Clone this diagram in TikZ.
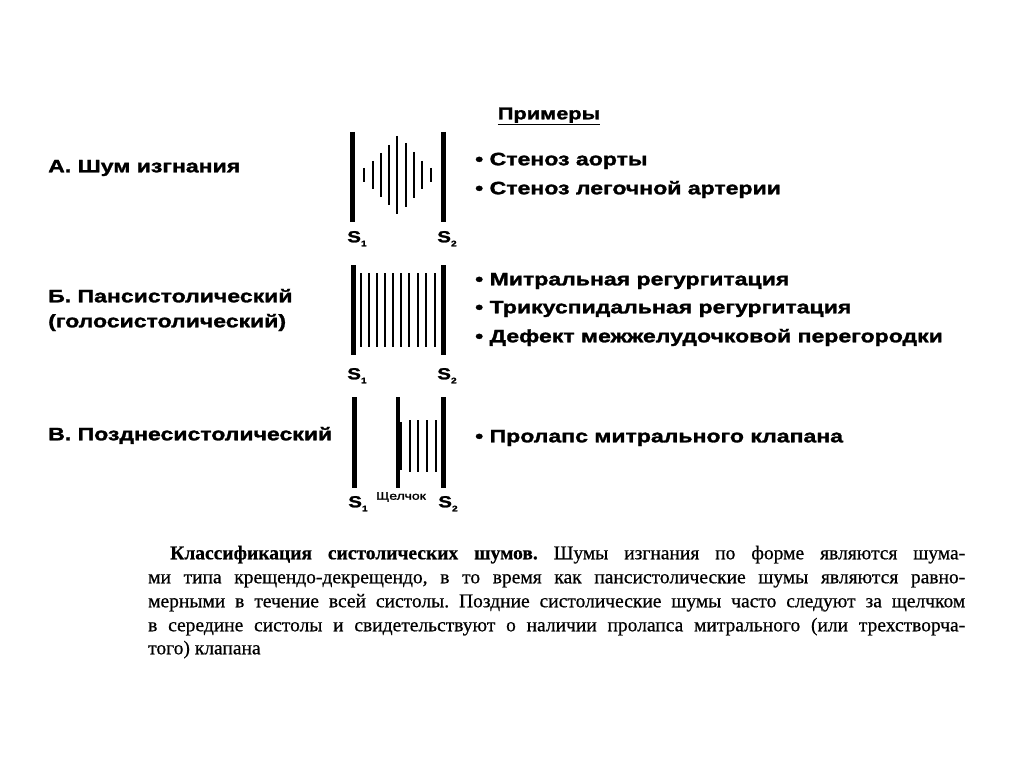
\documentclass[tikz,border=0pt]{standalone}
\usepackage{fontspec}
\setmainfont{Liberation Serif}[FakeBold=0.6]
\newfontfamily\lab{Liberation Sans}[FakeStretch=1.28,FakeBold=1.6]
\frenchspacing
\begin{document}
\begin{tikzpicture}[x=1pt,y=-1pt,
  lab/.style={anchor=mid west, inner sep=0pt, font=\lab\bfseries\fontsize{18}{20}\selectfont},
  slab/.style={anchor=mid, inner sep=0pt, font=\lab\bfseries\fontsize{16}{18}\selectfont},
  captxt/.style={anchor=mid west, inner sep=0pt, font=\fontsize{19.5}{22}\selectfont},
  sline/.style={line width=5pt},
  mline/.style={line width=2.8pt}]
\useasboundingbox (0,0) rectangle (1024,767);
\fill[white] (0,0) rectangle (1024,767);

% headings and labels
\node[lab, anchor=mid, font=\lab\bfseries\fontsize{17}{18}\selectfont] (ex) at (549,117) {\underline{Примеры}};
\node[lab] (la) at (48,170) {А. Шум изгнания};
\node[lab] (lb1) at (48,300) {Б. Пансистолический};
\node[lab] (lb2) at (48,325) {(голосистолический)};
\node[lab] (lc) at (48,438) {В. Позднесистолический};

% examples
\node[lab] (ea1) at (475,163) {• Стеноз аорты};
\node[lab] (ea2) at (475,192) {• Стеноз легочной артерии};
\node[lab] (eb1) at (475,283) {• Митральная регургитация};
\node[lab] (eb2) at (475,311) {• Трикуспидальная регургитация};
\node[lab] (eb3) at (475,340) {• Дефект межжелудочковой перегородки};
\node[lab] (ec1) at (475,440) {• Пролапс митрального клапана};

% Row A
\draw[sline] (352,132) -- (352,222);
\draw[sline] (443,132) -- (443,222);
\foreach \x/\h in {364/7,373/14,381/22,389/30,397/39,406/32,414/23,422/14,431/7}
  \draw[mline] (\x,175-\h) -- (\x,175+\h);
\node[slab] (sa1) at (357,240) {S\raisebox{-4pt}{\fontsize{8}{8}\selectfont 1}};
\node[slab] (sa2) at (447,240) {S\raisebox{-4pt}{\fontsize{8}{8}\selectfont 2}};

% Row B
\draw[sline] (353,265) -- (353,355);
\draw[sline] (443,265) -- (443,355);
\foreach \x in {361,369,377,385,393,401,409,418,426,435}
  \draw[mline] (\x,273) -- (\x,347);
\node[slab] (sb1) at (357,377) {S\raisebox{-4pt}{\fontsize{8}{8}\selectfont 1}};
\node[slab] (sb2) at (447,377) {S\raisebox{-4pt}{\fontsize{8}{8}\selectfont 2}};

% Row C
\draw[sline] (354,397) -- (354,488);
\draw[line width=3.8pt] (398,397) -- (398,488);
\draw[line width=6pt] (399,422) -- (399,470);
\draw[sline] (443,397) -- (443,488);
\foreach \x in {410,418,427,436}
  \draw[mline] (\x,420) -- (\x,472);
\node[slab] (sc1) at (358,505) {S\raisebox{-4pt}{\fontsize{8}{8}\selectfont 1}};
\node[slab] (sc2) at (448,505) {S\raisebox{-4pt}{\fontsize{8}{8}\selectfont 2}};
\node[inner sep=0pt, font=\lab\fontsize{11}{12}\selectfont] (click) at (401,497) {Щелчок};

% caption
\node[captxt] (c1) at (170,557) {\makebox[795pt][s]{\textbf{Классификация систолических шумов.} Шумы изгнания по форме являются шума-}};
\node[captxt] (c2) at (148,581) {\makebox[817pt][s]{ми типа крещендо-декрещендо, в то время как пансистолические шумы являются равно-}};
\node[captxt] (c3) at (148,605) {\makebox[817pt][s]{мерными в течение всей систолы. Поздние систолические шумы часто следуют за щелчком}};
\node[captxt] (c4) at (148,629) {\makebox[817pt][s]{в середине систолы и свидетельствуют о наличии пролапса митрального (или трехстворча-}};
\node[captxt] (c5) at (148,652) {того) клапана};
\end{tikzpicture}
\end{document}
